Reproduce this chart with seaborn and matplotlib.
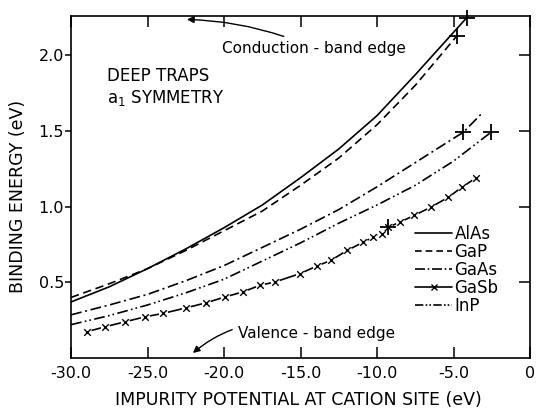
import numpy as np
import pandas as pd
import matplotlib
matplotlib.use("Agg")
import matplotlib.pyplot as plt
import seaborn as sns
from matplotlib.lines import Line2D

# ---- data ----
alas_x = [-30.0, -27.5, -25.0, -22.5, -20.0, -17.5, -15.0, -12.5, -10.0, -7.5, -5.0, -4.15]
alas_y = [0.37, 0.47, 0.59, 0.72, 0.86, 1.01, 1.19, 1.38, 1.60, 1.87, 2.15, 2.245]

gap_x = [-30.0, -27.5, -25.0, -22.5, -20.0, -17.5, -15.0, -12.5, -10.0, -7.5, -5.0, -4.8]
gap_y = [0.40, 0.49, 0.59, 0.71, 0.84, 0.97, 1.14, 1.32, 1.54, 1.80, 2.10, 2.125]

gaas_x = [-30.0, -27.5, -25.0, -22.5, -20.0, -17.5, -15.0, -12.5, -10.0, -7.5, -5.0, -4.36, -3.2]
gaas_y = [0.285, 0.35, 0.42, 0.51, 0.61, 0.73, 0.85, 0.98, 1.13, 1.29, 1.45, 1.49, 1.61]

inp_x = [-30.0, -27.5, -25.0, -22.5, -20.0, -17.5, -15.0, -12.5, -10.0, -7.5, -5.0, -2.55]
inp_y = [0.22, 0.28, 0.35, 0.43, 0.52, 0.64, 0.76, 0.89, 1.01, 1.14, 1.30, 1.49]

gasb_x = [-28.97, -27.78, -26.47, -25.16, -24.0, -22.48, -21.18, -19.93, -18.78, -17.65,
          -16.67, -15.03, -13.94, -13.0, -11.94, -10.89, -10.24, -9.69, -9.26, -8.50,
          -7.58, -6.49, -5.34, -4.46, -3.53]
gasb_y = [0.173, 0.206, 0.239, 0.272, 0.294, 0.331, 0.364, 0.403, 0.436, 0.480,
          0.502, 0.557, 0.607, 0.645, 0.711, 0.765, 0.798, 0.820, 0.864, 0.897,
          0.941, 0.995, 1.061, 1.127, 1.189]

# large "+" marks on the curves
plus_x = [-4.15, -4.8, -4.36, -2.55, -9.26]
plus_y = [2.245, 2.125, 1.49, 1.49, 0.864]

xticks = [-30, -25, -20, -15, -10, -5, 0]
xtick_labels = ["-30.0", "-25.0", "-20.0", "-15.0", "-10.0", "-5.0", "0"]
yticks = [0.5, 1.0, 1.5, 2.0]
ytick_labels = ["0.5", "1.0", "1.5", "2.0"]

sns.set_style("ticks")
plt.rcParams["font.family"] = ["DejaVu Sans"]
plt.rcParams["text.color"] = "black"
plt.rcParams["axes.labelcolor"] = "black"
plt.rcParams["xtick.color"] = "black"
plt.rcParams["ytick.color"] = "black"
plt.rcParams["axes.edgecolor"] = "black"

fig = plt.figure(figsize=(5.37, 4.08), dpi=100)
ax = fig.add_axes([71/537, 1-358/408, (530-71)/537, (358-15.7)/408])

lw = 1.2
series = [
    ("AlAs", alas_x, alas_y, "-"),
    ("GaP", gap_x, gap_y, (0, (5.0, 2.8))),
    ("GaAs", gaas_x, gaas_y, (0, (6.5, 2.2, 1.2, 2.2))),
    ("InP", inp_x, inp_y, (0, (6.5, 2.0, 1.0, 1.8, 1.0, 2.0))),
]
for name, xs, ys, ls in series:
    df = pd.DataFrame({"x": xs, "y": ys})
    sns.lineplot(data=df, x="x", y="y", ax=ax, color="black", lw=lw,
                 linestyle=ls, sort=False, estimator=None)

# GaSb: line broken at x markers
df_sb = pd.DataFrame({"x": gasb_x, "y": gasb_y})
sns.lineplot(data=df_sb, x="x", y="y", ax=ax, color="black", lw=lw,
             sort=False, estimator=None)
sns.scatterplot(data=df_sb, x="x", y="y", ax=ax, color="white", s=45,
                marker="o", linewidth=0, zorder=3)
sns.scatterplot(data=df_sb, x="x", y="y", ax=ax, color="black", s=22,
                marker="x", linewidth=1.0, zorder=4)

df_plus = pd.DataFrame({"x": plus_x, "y": plus_y})
sns.scatterplot(data=df_plus, x="x", y="y", ax=ax, color="black", s=130,
                marker="+", linewidth=1.3, zorder=5, clip_on=False)

ax.set_xlim(-30, 0)
ax.set_ylim(0, 2.26)
ax.set_xticks(xticks)
ax.set_xticklabels(xtick_labels)
ax.set_yticks(yticks)
ax.set_yticklabels(ytick_labels)
ax.tick_params(axis="x", direction="in", length=8, width=1.1, top=True,
               pad=6, labelsize=11.5)
ax.tick_params(axis="y", which="both", direction="out", length=4, width=1.1,
               pad=1, labelsize=11.5, right=False)
# inward right ticks
ax2 = ax.secondary_yaxis("right")
ax2.set_yticks(yticks)
ax2.tick_params(direction="in", length=8, width=1.1, labelright=False)
ax2.spines["right"].set_visible(False)
for s in ax.spines.values():
    s.set_linewidth(1.2)
    s.set_visible(True)

ax.set_xlabel("IMPURITY POTENTIAL AT CATION SITE (eV)", fontsize=12.5)
ax.xaxis.set_label_coords(0.496, -0.095)
ax.set_ylabel("BINDING ENERGY (eV)", fontsize=12.5)
ax.yaxis.set_label_coords(-0.095, 0.473)

ax.text(-27.65, 1.92, "DEEP TRAPS", fontsize=12, va="top", ha="left")
ax.text(-27.65, 1.78, "a$_{\\mathregular{1}}$ SYMMETRY", fontsize=12, va="top", ha="left")

ax.annotate("Conduction - band edge", xy=(-22.42, 2.235), xytext=(-20.15, 2.046),
            fontsize=11, ha="left", va="center",
            arrowprops=dict(arrowstyle="-|>", color="black", lw=1.0,
                            connectionstyle="arc3,rad=0.1",
                            shrinkA=2, shrinkB=0, mutation_scale=10))
ax.annotate("Valence - band edge", xy=(-22.03, 0.033), xytext=(-19.08, 0.164),
            fontsize=11, ha="left", va="center",
            arrowprops=dict(arrowstyle="-|>", color="black", lw=1.0,
                            connectionstyle="arc3,rad=0.3",
                            shrinkA=2, shrinkB=0, mutation_scale=10))

leg_handles = [
    Line2D([], [], color="black", lw=lw, linestyle="-"),
    Line2D([], [], color="black", lw=lw, linestyle=(0, (4.0, 2.4))),
    Line2D([], [], color="black", lw=lw, linestyle=(0, (6.0, 1.6, 1.0, 1.6))),
    Line2D([], [], color="black", lw=lw, linestyle="-", marker="x", markersize=5,
           markevery=[1]),
    Line2D([], [], color="black", lw=lw, linestyle=(0, (5.0, 1.4, 1.0, 1.2, 1.0, 1.4))),
]
leg = ax.legend(leg_handles, ["AlAs", "GaP", "GaAs", "GaSb", "InP"],
                loc="upper left", bbox_to_anchor=(0.750, 0.39), frameon=False,
                fontsize=12, handlelength=2.2, handletextpad=0.15,
                labelspacing=0.0, borderpad=0, borderaxespad=0)

fig.savefig("out.png", dpi=100)
